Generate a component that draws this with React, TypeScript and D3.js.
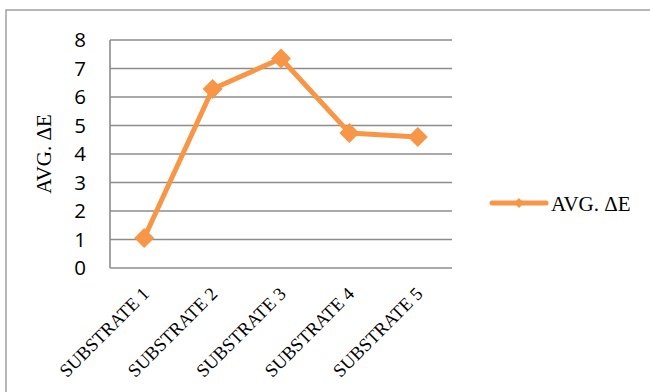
import React from "react";
import * as d3 from "d3";

const categories = ["SUBSTRATE 1", "SUBSTRATE 2", "SUBSTRATE 3", "SUBSTRATE 4", "SUBSTRATE 5"];
const avgDeltaE = [1.05, 6.28, 7.35, 4.74, 4.6];
const yTicks = [0, 1, 2, 3, 4, 5, 6, 7, 8];
const seriesName = "AVG. \u0394E";
const yTitle = "AVG. \u0394E";

const W = 650;
const H = 392;
const plot = { left: 110, right: 452, top: 40, bottom: 268 };
const ORANGE = "#F79646";
const GRID = "#8c8c8c";

export default function App() {
  const x = d3.scaleBand<string>().domain(categories).range([plot.left, plot.right]);
  const y = d3.scaleLinear().domain([0, 8]).range([plot.bottom, plot.top]);
  const pts: [number, number][] = avgDeltaE.map((v, i) => [x(categories[i])! + x.bandwidth() / 2, y(v)]);
  const line = d3.line()(pts) || "";
  const diamond = (cx: number, cy: number, r: number) =>
    `M${cx},${cy - r}L${cx + r},${cy}L${cx},${cy + r}L${cx - r},${cy}Z`;

  return (
    <svg width={W} height={H} style={{ position: "absolute", left: 0, top: 0, background: "#fff" }}>
      <rect x={6} y={10} width={700} height={500} fill="#fff" stroke="#a0a0a0" strokeWidth={1.5} />
      {yTicks.map((t) => (
        <line key={"g" + t} x1={plot.left} x2={plot.right} y1={y(t)} y2={y(t)} stroke={GRID} strokeWidth={1.6} />
      ))}
      <line x1={plot.left} x2={plot.left} y1={plot.top} y2={plot.bottom} stroke={GRID} strokeWidth={1.6} />
      {yTicks.map((t) => (
        <text key={"t" + t} x={86} y={y(t)} dy="0.35em" textAnchor="end" fontFamily="'Open Sans', sans-serif" fontSize={20.5} fill="#000">
          {t}
        </text>
      ))}
      <text transform={`translate(51,${(plot.top + plot.bottom) / 2}) rotate(-90)`} textAnchor="middle" fontFamily="'Liberation Serif', serif" fontSize={21} fill="#000">
        {yTitle}
      </text>
      {categories.map((c) => {
        const cx = x(c)! + x.bandwidth() / 2 + 6;
        return (
          <text key={c} transform={`translate(${cx},${plot.bottom + 27}) rotate(-45)`} textAnchor="end" fontFamily="'Liberation Serif', serif" fontSize={18.5} fill="#000">
            {c}
          </text>
        );
      })}
      <path d={line} fill="none" stroke={ORANGE} strokeWidth={5} strokeLinejoin="round" />
      {pts.map(([px, py], i) => (
        <path key={"m" + i} d={diamond(px, py, 10)} fill={ORANGE} />
      ))}
      <line x1={492} x2={546} y1={203} y2={203} stroke={ORANGE} strokeWidth={5} strokeLinecap="round" />
      <path d={diamond(519, 203, 5)} fill={ORANGE} />
      <text x={551} y={211} fontFamily="'Liberation Serif', serif" fontSize={21} fill="#000">
        {seriesName}
      </text>
    </svg>
  );
}
